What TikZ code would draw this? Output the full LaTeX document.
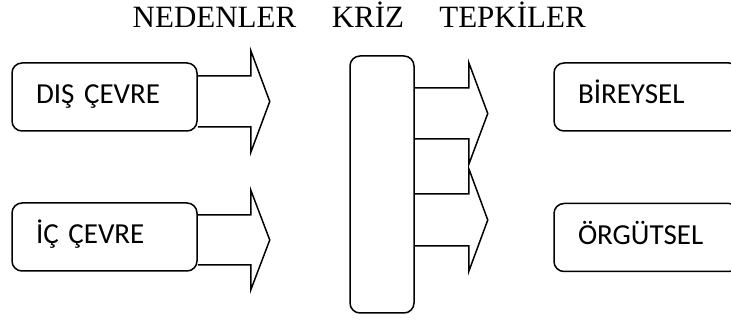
\documentclass[tikz,border=0pt]{standalone}
\usepackage{fontspec}
\setmainfont{Liberation Serif}
\newfontfamily\boxfont{Carlito}
\usetikzlibrary{calc}
\def\blockarrow(#1)(#2:#3:#4:#5:#6){\draw[blockline] ($(#1)+(0,#2-#3)$) -- ++(#5,0) -- ++(0,#3-#4) -- ++(#6,#4) -- ++(-#6,#4) -- ++(0,#3-#4) -- ++(-#5,0);}
\tikzset{
	blockline/.style={line width=1.5pt, line join=miter},
	causebox/.style={draw, line width=1.5pt, rounded corners=10pt, minimum height=68pt, text width=137pt, inner xsep=24pt, inner ysep=0pt, align=left, text height=19pt, text depth=5pt, font=\boxfont\fontsize{29}{34}\selectfont},
	headline/.style={anchor=base, inner sep=0pt, font=\fontsize{31}{36}\selectfont}
}
\begin{document}
\begin{tikzpicture}[x=1pt, y=-1pt]
			%%%%% START %%%%%
			\useasboundingbox (0, 0) rectangle (731, 320);
			\clip (0, 0) rectangle (731, 320);
			
			\node[headline] (nedenler) at (214.5, 28) {NEDENLER};
			\node[headline] (krizhead) at (368, 28) {KRİZ};
			\node[headline] (tepkiler) at (512.5, 28) {TEPKİLER};
			
			\node[causebox] (dis) at (104.5, 97) {DIŞ ÇEVRE};
			\node[causebox] (ic) at (104.5, 237) {İÇ ÇEVRE};
			
			\node[draw, line width=1.5pt, rounded corners=10pt, minimum width=64pt, minimum height=257pt] (kriz) at (382, 184.5) {};
			
			\node[causebox] (bireysel) at (646.5, 97) {BİREYSEL};
			\node[causebox] (orgutsel) at (646.5, 237.5) {ÖRGÜTSEL};
			
			\blockarrow(dis.east)(4.5:25.5:51:53:19);
			\blockarrow(ic.east)(3:25:50:53:19);
			
			\blockarrow(kriz.east)(-71:25.5:51:54:19);
			\blockarrow(kriz.east)(35.5:26:51.5:54:19);
			
			%%%%% END %%%%%
		\end{tikzpicture}
\end{document}
